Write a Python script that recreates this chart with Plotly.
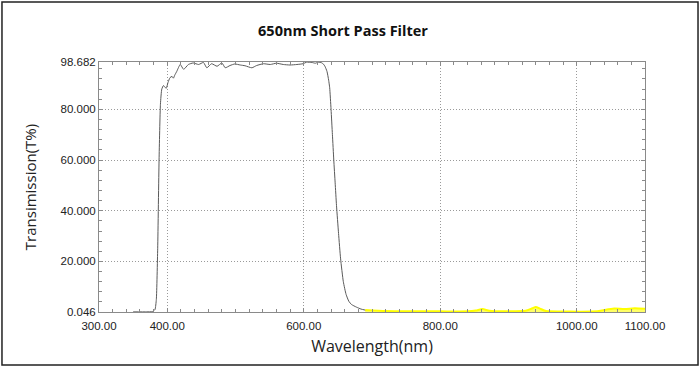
import plotly.graph_objects as go

# Passband / transition (gray curve)
wl_pass = [350, 370, 378, 382, 384, 386, 388, 390, 392, 394.5, 396.5, 398.5, 401, 404, 407, 409,
           411, 414, 419, 424, 431, 438, 446, 453, 458, 465, 473, 480, 485, 492, 499, 507, 514,
           524, 531, 541, 551, 560, 570, 580, 590, 599, 604, 612, 617, 621, 626, 629, 631, 634,
           636.5, 638, 640, 642, 644, 646, 648, 651, 654, 658, 662, 666, 670, 677, 684, 690]
t_pass = [0.1, 0.1, 0.2, 1.0, 5, 25, 60, 82, 88, 89.4, 88.8, 88.3, 90.5, 92.5, 93, 92.3,
          93.5, 95, 97.7, 95.8, 97.7, 98.3, 97.7, 98.5, 96.4, 98, 97, 98.3, 96.4, 97.3, 97.9, 97.5, 97.2,
          96.4, 97.3, 98.0, 97.7, 98.2, 97.7, 97.5, 97.7, 98.0, 98.6, 98.5, 98.2, 98.6, 98.4, 97.8, 97, 95,
          91.5, 88.5, 80, 70, 60, 51, 42, 31, 21, 12, 7, 4.3, 3, 2, 1.2, 0.8]

# Blocking region (yellow)
wl_block = [690, 720, 760, 800, 840, 852, 862, 872, 900, 925, 935, 940, 946, 955, 990,
            1030, 1040, 1055, 1070, 1085, 1100]
t_block = [0.8, 0.4, 0.3, 0.3, 0.3, 0.6, 1.2, 0.5, 0.3, 0.5, 1.5, 2.0, 1.4, 0.4, 0.2,
           0.3, 0.8, 1.4, 1.2, 1.5, 1.3]

x_tickvals = [300, 400, 600, 800, 1000, 1100]
x_ticktext = ["300.00", "400.00", "600.00", "800.00", "1000.00", "1100.00"]
y_tickvals = [0.046, 20, 40, 60, 80, 98.682]
y_ticktext = ["0.046", "20.000", "40.000", "60.000", "80.000", "98.682"]

fig = go.Figure()
fig.add_trace(go.Scatter(x=wl_block, y=t_block, mode="lines",
                         line=dict(color="#ffff00", width=2, shape="spline", smoothing=0.6),
                         fill="tozeroy", fillcolor="rgba(255,255,0,0.6)", showlegend=False,
                         hoverinfo="skip"))
fig.add_trace(go.Scatter(x=wl_pass, y=t_pass, mode="lines",
                         line=dict(color="#5a5a5a", width=1, shape="spline", smoothing=0.5),
                         showlegend=False))

axis_common = dict(showline=True, linecolor="#8a8a8a", linewidth=1, mirror="ticks",
                   ticks="inside", ticklen=4, tickcolor="#8a8a8a",
                   showgrid=True, gridcolor="#9a9a9a", gridwidth=1, griddash="1px,2px",
                   zeroline=False,
                   tickfont=dict(family="Liberation Sans, Arial", size=11.5, color="#222"))

fig.update_xaxes(range=[300, 1100], tickmode="array", tickvals=x_tickvals, ticktext=x_ticktext,
                 ticklabelstandoff=3,
                 minor=dict(dtick=20, tick0=300, ticks="inside", ticklen=3, tickcolor="#8a8a8a",
                            showgrid=False),
                 title=dict(text="Wavelength(nm)", font=dict(family="Open Sans", size=16, color="#222"),
                            standoff=10),
                 **axis_common)
fig.update_yaxes(range=[0.046, 98.682], tickmode="array", tickvals=y_tickvals, ticktext=y_ticktext,
                 minor=dict(dtick=4, tick0=0, ticks="inside", ticklen=3, tickcolor="#8a8a8a",
                            showgrid=False),
                 title=dict(text="Transimission(T%)", font=dict(family="Open Sans", size=15, color="#222"),
                            standoff=20),
                 **axis_common)

fig.update_layout(
    width=700, height=367,
    margin=dict(l=99, r=55, t=62, b=55),
    paper_bgcolor="white", plot_bgcolor="white",
    title=dict(text="<b>650nm Short Pass Filter</b>", x=0.49, xanchor="center", y=0.915, yanchor="middle",
               font=dict(family="Open Sans", size=14.5, color="#111")),
    shapes=[dict(type="rect", xref="paper", yref="paper",
                 x0=-0.1777, x1=1.0971, y0=-0.212, y1=1.24,
                 line=dict(color="#222", width=1.5), fillcolor="rgba(0,0,0,0)", layer="above")],
)

fig.write_html("out.html", config={"displayModeBar": False},
               post_script="document.body.style.margin='0';document.body.style.overflow='hidden';")
